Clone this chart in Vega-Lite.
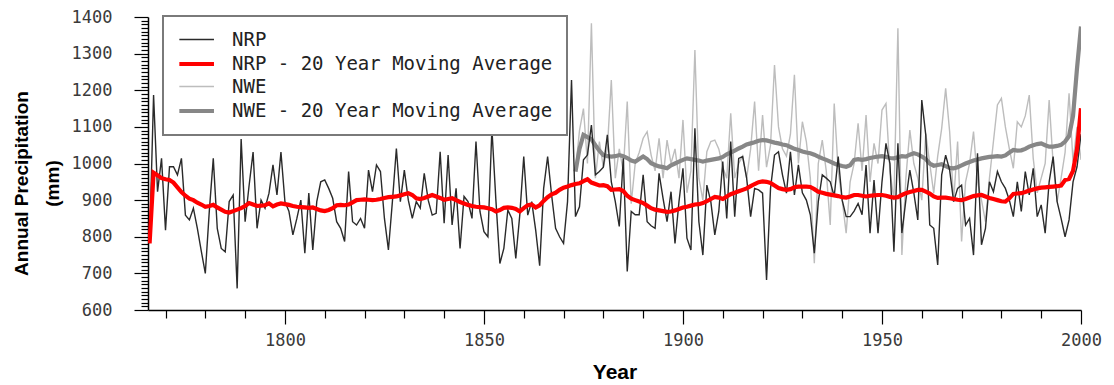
{
  "$schema": "https://vega.github.io/schema/vega-lite/v6.json",
  "width": 933,
  "height": 293,
  "autosize": {"type": "none"},
  "padding": {"left": 148, "top": 17, "right": 33, "bottom": 75},
  "background": "white",
  "config": {"view": {"stroke": null}, "axis": {"grid": false}},
  "data": {"values": [
    {"Year":1766,"NRP":782,"NRP_MA":782},
    {"Year":1767,"NRP":1187,"NRP_MA":975},
    {"Year":1768,"NRP":923,"NRP_MA":968},
    {"Year":1769,"NRP":1014,"NRP_MA":960},
    {"Year":1770,"NRP":818,"NRP_MA":957},
    {"Year":1771,"NRP":991,"NRP_MA":955},
    {"Year":1772,"NRP":991,"NRP_MA":948},
    {"Year":1773,"NRP":969,"NRP_MA":935},
    {"Year":1774,"NRP":1014,"NRP_MA":922},
    {"Year":1775,"NRP":859,"NRP_MA":912},
    {"Year":1776,"NRP":846,"NRP_MA":904},
    {"Year":1777,"NRP":878,"NRP_MA":900},
    {"Year":1778,"NRP":823,"NRP_MA":893},
    {"Year":1779,"NRP":760,"NRP_MA":888},
    {"Year":1780,"NRP":700,"NRP_MA":882},
    {"Year":1781,"NRP":870,"NRP_MA":884},
    {"Year":1782,"NRP":1014,"NRP_MA":887},
    {"Year":1783,"NRP":823,"NRP_MA":880},
    {"Year":1784,"NRP":768,"NRP_MA":874},
    {"Year":1785,"NRP":759,"NRP_MA":868},
    {"Year":1786,"NRP":896,"NRP_MA":866},
    {"Year":1787,"NRP":914,"NRP_MA":870},
    {"Year":1788,"NRP":659,"NRP_MA":874},
    {"Year":1789,"NRP":1067,"NRP_MA":878},
    {"Year":1790,"NRP":841,"NRP_MA":884},
    {"Year":1791,"NRP":940,"NRP_MA":892},
    {"Year":1792,"NRP":1031,"NRP_MA":888},
    {"Year":1793,"NRP":823,"NRP_MA":884},
    {"Year":1794,"NRP":900,"NRP_MA":885},
    {"Year":1795,"NRP":878,"NRP_MA":886},
    {"Year":1796,"NRP":919,"NRP_MA":891},
    {"Year":1797,"NRP":996,"NRP_MA":883},
    {"Year":1798,"NRP":914,"NRP_MA":888},
    {"Year":1799,"NRP":1031,"NRP_MA":891},
    {"Year":1800,"NRP":896,"NRP_MA":889},
    {"Year":1801,"NRP":870,"NRP_MA":887},
    {"Year":1802,"NRP":805,"NRP_MA":884},
    {"Year":1803,"NRP":850,"NRP_MA":882},
    {"Year":1804,"NRP":900,"NRP_MA":881},
    {"Year":1805,"NRP":755,"NRP_MA":880},
    {"Year":1806,"NRP":919,"NRP_MA":879},
    {"Year":1807,"NRP":764,"NRP_MA":880},
    {"Year":1808,"NRP":896,"NRP_MA":876},
    {"Year":1809,"NRP":950,"NRP_MA":872},
    {"Year":1810,"NRP":955,"NRP_MA":870},
    {"Year":1811,"NRP":932,"NRP_MA":873},
    {"Year":1812,"NRP":905,"NRP_MA":878},
    {"Year":1813,"NRP":841,"NRP_MA":886},
    {"Year":1814,"NRP":823,"NRP_MA":887},
    {"Year":1815,"NRP":787,"NRP_MA":886},
    {"Year":1816,"NRP":978,"NRP_MA":888},
    {"Year":1817,"NRP":841,"NRP_MA":894},
    {"Year":1818,"NRP":832,"NRP_MA":900},
    {"Year":1819,"NRP":850,"NRP_MA":901},
    {"Year":1820,"NRP":823,"NRP_MA":902},
    {"Year":1821,"NRP":982,"NRP_MA":901},
    {"Year":1822,"NRP":923,"NRP_MA":900},
    {"Year":1823,"NRP":996,"NRP_MA":901},
    {"Year":1824,"NRP":978,"NRP_MA":903},
    {"Year":1825,"NRP":850,"NRP_MA":906},
    {"Year":1826,"NRP":764,"NRP_MA":908},
    {"Year":1827,"NRP":896,"NRP_MA":909},
    {"Year":1828,"NRP":1041,"NRP_MA":910},
    {"Year":1829,"NRP":896,"NRP_MA":913},
    {"Year":1830,"NRP":982,"NRP_MA":916},
    {"Year":1831,"NRP":900,"NRP_MA":919},
    {"Year":1832,"NRP":850,"NRP_MA":914},
    {"Year":1833,"NRP":896,"NRP_MA":905},
    {"Year":1834,"NRP":878,"NRP_MA":903},
    {"Year":1835,"NRP":973,"NRP_MA":906},
    {"Year":1836,"NRP":900,"NRP_MA":910},
    {"Year":1837,"NRP":859,"NRP_MA":914},
    {"Year":1838,"NRP":864,"NRP_MA":910},
    {"Year":1839,"NRP":1032,"NRP_MA":906},
    {"Year":1840,"NRP":837,"NRP_MA":901},
    {"Year":1841,"NRP":1023,"NRP_MA":903},
    {"Year":1842,"NRP":832,"NRP_MA":905},
    {"Year":1843,"NRP":932,"NRP_MA":900},
    {"Year":1844,"NRP":768,"NRP_MA":895},
    {"Year":1845,"NRP":910,"NRP_MA":891},
    {"Year":1846,"NRP":896,"NRP_MA":887},
    {"Year":1847,"NRP":850,"NRP_MA":884},
    {"Year":1848,"NRP":1060,"NRP_MA":882},
    {"Year":1849,"NRP":869,"NRP_MA":881},
    {"Year":1850,"NRP":814,"NRP_MA":880},
    {"Year":1851,"NRP":800,"NRP_MA":878},
    {"Year":1852,"NRP":1095,"NRP_MA":875},
    {"Year":1853,"NRP":900,"NRP_MA":869},
    {"Year":1854,"NRP":727,"NRP_MA":873},
    {"Year":1855,"NRP":768,"NRP_MA":879},
    {"Year":1856,"NRP":873,"NRP_MA":880},
    {"Year":1857,"NRP":850,"NRP_MA":879},
    {"Year":1858,"NRP":741,"NRP_MA":876},
    {"Year":1859,"NRP":859,"NRP_MA":869},
    {"Year":1860,"NRP":1019,"NRP_MA":878},
    {"Year":1861,"NRP":859,"NRP_MA":886},
    {"Year":1862,"NRP":896,"NRP_MA":888},
    {"Year":1863,"NRP":818,"NRP_MA":880},
    {"Year":1864,"NRP":721,"NRP_MA":886},
    {"Year":1865,"NRP":932,"NRP_MA":898},
    {"Year":1866,"NRP":1019,"NRP_MA":908},
    {"Year":1867,"NRP":914,"NRP_MA":916},
    {"Year":1868,"NRP":823,"NRP_MA":920},
    {"Year":1869,"NRP":800,"NRP_MA":928},
    {"Year":1870,"NRP":782,"NRP_MA":934},
    {"Year":1871,"NRP":896,"NRP_MA":937},
    {"Year":1872,"NRP":1228,"NRP_MA":941},
    {"Year":1873,"NRP":855,"NRP_MA":944,"NWE":980,"NWE_MA":978},
    {"Year":1874,"NRP":882,"NRP_MA":946,"NWE":1090,"NWE_MA":1040},
    {"Year":1875,"NRP":1010,"NRP_MA":952,"NWE":1150,"NWE_MA":1078},
    {"Year":1876,"NRP":1023,"NRP_MA":957,"NWE":1000,"NWE_MA":1072},
    {"Year":1877,"NRP":1105,"NRP_MA":948,"NWE":1383,"NWE_MA":1066},
    {"Year":1878,"NRP":969,"NRP_MA":944,"NWE":960,"NWE_MA":1050},
    {"Year":1879,"NRP":978,"NRP_MA":940,"NWE":1060,"NWE_MA":1035},
    {"Year":1880,"NRP":990,"NRP_MA":941,"NWE":990,"NWE_MA":1023},
    {"Year":1881,"NRP":1078,"NRP_MA":938,"NWE":1040,"NWE_MA":1020},
    {"Year":1882,"NRP":950,"NRP_MA":928,"NWE":1228,"NWE_MA":1019},
    {"Year":1883,"NRP":896,"NRP_MA":929,"NWE":960,"NWE_MA":1020},
    {"Year":1884,"NRP":828,"NRP_MA":930,"NWE":1040,"NWE_MA":1023},
    {"Year":1885,"NRP":1014,"NRP_MA":925,"NWE":980,"NWE_MA":1020},
    {"Year":1886,"NRP":705,"NRP_MA":912,"NWE":1169,"NWE_MA":1015},
    {"Year":1887,"NRP":869,"NRP_MA":904,"NWE":890,"NWE_MA":1008},
    {"Year":1888,"NRP":860,"NRP_MA":900,"NWE":1000,"NWE_MA":1005},
    {"Year":1889,"NRP":860,"NRP_MA":896,"NWE":1030,"NWE_MA":1012},
    {"Year":1890,"NRP":969,"NRP_MA":892,"NWE":1069,"NWE_MA":1019},
    {"Year":1891,"NRP":841,"NRP_MA":885,"NWE":1087,"NWE_MA":1012},
    {"Year":1892,"NRP":830,"NRP_MA":878,"NWE":1023,"NWE_MA":1001},
    {"Year":1893,"NRP":823,"NRP_MA":874,"NWE":980,"NWE_MA":996},
    {"Year":1894,"NRP":973,"NRP_MA":872,"NWE":1069,"NWE_MA":992},
    {"Year":1895,"NRP":905,"NRP_MA":870,"NWE":960,"NWE_MA":990},
    {"Year":1896,"NRP":841,"NRP_MA":868,"NWE":1064,"NWE_MA":987},
    {"Year":1897,"NRP":923,"NRP_MA":869,"NWE":1000,"NWE_MA":995},
    {"Year":1898,"NRP":782,"NRP_MA":872,"NWE":1040,"NWE_MA":1000},
    {"Year":1899,"NRP":896,"NRP_MA":876,"NWE":960,"NWE_MA":1005},
    {"Year":1900,"NRP":987,"NRP_MA":880,"NWE":1119,"NWE_MA":1010},
    {"Year":1901,"NRP":796,"NRP_MA":882,"NWE":920,"NWE_MA":1014},
    {"Year":1902,"NRP":764,"NRP_MA":885,"NWE":980,"NWE_MA":1012},
    {"Year":1903,"NRP":1096,"NRP_MA":888,"NWE":1310,"NWE_MA":1010},
    {"Year":1904,"NRP":841,"NRP_MA":889,"NWE":960,"NWE_MA":1008},
    {"Year":1905,"NRP":750,"NRP_MA":892,"NWE":900,"NWE_MA":1005},
    {"Year":1906,"NRP":941,"NRP_MA":897,"NWE":1032,"NWE_MA":1008},
    {"Year":1907,"NRP":896,"NRP_MA":903,"NWE":1060,"NWE_MA":1010},
    {"Year":1908,"NRP":805,"NRP_MA":909,"NWE":1064,"NWE_MA":1012},
    {"Year":1909,"NRP":869,"NRP_MA":907,"NWE":1040,"NWE_MA":1014},
    {"Year":1910,"NRP":1005,"NRP_MA":903,"NWE":990,"NWE_MA":1018},
    {"Year":1911,"NRP":850,"NRP_MA":910,"NWE":960,"NWE_MA":1025},
    {"Year":1912,"NRP":1060,"NRP_MA":916,"NWE":1137,"NWE_MA":1030},
    {"Year":1913,"NRP":855,"NRP_MA":920,"NWE":960,"NWE_MA":1035},
    {"Year":1914,"NRP":1014,"NRP_MA":924,"NWE":1000,"NWE_MA":1041},
    {"Year":1915,"NRP":1019,"NRP_MA":928,"NWE":1020,"NWE_MA":1046},
    {"Year":1916,"NRP":960,"NRP_MA":932,"NWE":960,"NWE_MA":1052},
    {"Year":1917,"NRP":855,"NRP_MA":938,"NWE":1040,"NWE_MA":1055},
    {"Year":1918,"NRP":932,"NRP_MA":944,"NWE":1169,"NWE_MA":1058},
    {"Year":1919,"NRP":928,"NRP_MA":949,"NWE":980,"NWE_MA":1062},
    {"Year":1920,"NRP":919,"NRP_MA":951,"NWE":1132,"NWE_MA":1064},
    {"Year":1921,"NRP":682,"NRP_MA":950,"NWE":990,"NWE_MA":1063},
    {"Year":1922,"NRP":932,"NRP_MA":947,"NWE":1050,"NWE_MA":1060},
    {"Year":1923,"NRP":1023,"NRP_MA":940,"NWE":1269,"NWE_MA":1057},
    {"Year":1924,"NRP":1032,"NRP_MA":933,"NWE":1100,"NWE_MA":1055},
    {"Year":1925,"NRP":969,"NRP_MA":930,"NWE":1040,"NWE_MA":1052},
    {"Year":1926,"NRP":919,"NRP_MA":928,"NWE":1020,"NWE_MA":1050},
    {"Year":1927,"NRP":1032,"NRP_MA":930,"NWE":1080,"NWE_MA":1045},
    {"Year":1928,"NRP":914,"NRP_MA":935,"NWE":1242,"NWE_MA":1040},
    {"Year":1929,"NRP":996,"NRP_MA":937,"NWE":1000,"NWE_MA":1037},
    {"Year":1930,"NRP":920,"NRP_MA":937,"NWE":1114,"NWE_MA":1033},
    {"Year":1931,"NRP":900,"NRP_MA":937,"NWE":1060,"NWE_MA":1030},
    {"Year":1932,"NRP":860,"NRP_MA":936,"NWE":960,"NWE_MA":1028},
    {"Year":1933,"NRP":755,"NRP_MA":930,"NWE":728,"NWE_MA":1024},
    {"Year":1934,"NRP":896,"NRP_MA":923,"NWE":1000,"NWE_MA":1019},
    {"Year":1935,"NRP":969,"NRP_MA":920,"NWE":1064,"NWE_MA":1014},
    {"Year":1936,"NRP":960,"NRP_MA":917,"NWE":980,"NWE_MA":1010},
    {"Year":1937,"NRP":950,"NRP_MA":915,"NWE":832,"NWE_MA":1005},
    {"Year":1938,"NRP":910,"NRP_MA":913,"NWE":1164,"NWE_MA":1000},
    {"Year":1939,"NRP":1019,"NRP_MA":911,"NWE":980,"NWE_MA":996},
    {"Year":1940,"NRP":900,"NRP_MA":908,"NWE":900,"NWE_MA":993},
    {"Year":1941,"NRP":855,"NRP_MA":907,"NWE":810,"NWE_MA":991},
    {"Year":1942,"NRP":855,"NRP_MA":910,"NWE":950,"NWE_MA":995},
    {"Year":1943,"NRP":870,"NRP_MA":914,"NWE":1000,"NWE_MA":1010},
    {"Year":1944,"NRP":891,"NRP_MA":914,"NWE":1110,"NWE_MA":1012},
    {"Year":1945,"NRP":860,"NRP_MA":912,"NWE":980,"NWE_MA":1010},
    {"Year":1946,"NRP":996,"NRP_MA":910,"NWE":1132,"NWE_MA":1012},
    {"Year":1947,"NRP":810,"NRP_MA":912,"NWE":950,"NWE_MA":1015},
    {"Year":1948,"NRP":955,"NRP_MA":913,"NWE":1055,"NWE_MA":1017},
    {"Year":1949,"NRP":810,"NRP_MA":914,"NWE":1000,"NWE_MA":1019},
    {"Year":1950,"NRP":950,"NRP_MA":914,"NWE":1146,"NWE_MA":1020},
    {"Year":1951,"NRP":1055,"NRP_MA":912,"NWE":1164,"NWE_MA":1018},
    {"Year":1952,"NRP":1000,"NRP_MA":909,"NWE":980,"NWE_MA":1015},
    {"Year":1953,"NRP":759,"NRP_MA":907,"NWE":900,"NWE_MA":1014},
    {"Year":1954,"NRP":1055,"NRP_MA":908,"NWE":1369,"NWE_MA":1017},
    {"Year":1955,"NRP":810,"NRP_MA":914,"NWE":750,"NWE_MA":1020},
    {"Year":1956,"NRP":900,"NRP_MA":919,"NWE":960,"NWE_MA":1019},
    {"Year":1957,"NRP":982,"NRP_MA":922,"NWE":1091,"NWE_MA":1024},
    {"Year":1958,"NRP":920,"NRP_MA":925,"NWE":1000,"NWE_MA":1028},
    {"Year":1959,"NRP":846,"NRP_MA":928,"NWE":960,"NWE_MA":1025},
    {"Year":1960,"NRP":1173,"NRP_MA":928,"NWE":900,"NWE_MA":1019},
    {"Year":1961,"NRP":1078,"NRP_MA":923,"NWE":1082,"NWE_MA":1012},
    {"Year":1962,"NRP":832,"NRP_MA":918,"NWE":1000,"NWE_MA":1000},
    {"Year":1963,"NRP":823,"NRP_MA":910,"NWE":919,"NWE_MA":994},
    {"Year":1964,"NRP":723,"NRP_MA":906,"NWE":1020,"NWE_MA":996},
    {"Year":1965,"NRP":969,"NRP_MA":907,"NWE":1096,"NWE_MA":998},
    {"Year":1966,"NRP":1023,"NRP_MA":907,"NWE":1205,"NWE_MA":993},
    {"Year":1967,"NRP":982,"NRP_MA":905,"NWE":1087,"NWE_MA":988},
    {"Year":1968,"NRP":896,"NRP_MA":903,"NWE":896,"NWE_MA":987},
    {"Year":1969,"NRP":932,"NRP_MA":901,"NWE":1060,"NWE_MA":990},
    {"Year":1970,"NRP":941,"NRP_MA":900,"NWE":787,"NWE_MA":995},
    {"Year":1971,"NRP":832,"NRP_MA":903,"NWE":950,"NWE_MA":1000},
    {"Year":1972,"NRP":850,"NRP_MA":907,"NWE":1000,"NWE_MA":1004},
    {"Year":1973,"NRP":750,"NRP_MA":911,"NWE":1087,"NWE_MA":1008},
    {"Year":1974,"NRP":1028,"NRP_MA":913,"NWE":950,"NWE_MA":1011},
    {"Year":1975,"NRP":778,"NRP_MA":914,"NWE":900,"NWE_MA":1014},
    {"Year":1976,"NRP":823,"NRP_MA":910,"NWE":841,"NWE_MA":1016},
    {"Year":1977,"NRP":950,"NRP_MA":906,"NWE":960,"NWE_MA":1018},
    {"Year":1978,"NRP":923,"NRP_MA":903,"NWE":1060,"NWE_MA":1019},
    {"Year":1979,"NRP":978,"NRP_MA":900,"NWE":1160,"NWE_MA":1020},
    {"Year":1980,"NRP":950,"NRP_MA":897,"NWE":1178,"NWE_MA":1019},
    {"Year":1981,"NRP":932,"NRP_MA":896,"NWE":1100,"NWE_MA":1022},
    {"Year":1982,"NRP":900,"NRP_MA":905,"NWE":1040,"NWE_MA":1030},
    {"Year":1983,"NRP":855,"NRP_MA":917,"NWE":987,"NWE_MA":1037},
    {"Year":1984,"NRP":950,"NRP_MA":918,"NWE":1114,"NWE_MA":1035},
    {"Year":1985,"NRP":869,"NRP_MA":919,"NWE":1100,"NWE_MA":1036},
    {"Year":1986,"NRP":978,"NRP_MA":922,"NWE":1130,"NWE_MA":1040},
    {"Year":1987,"NRP":914,"NRP_MA":926,"NWE":1187,"NWE_MA":1046},
    {"Year":1988,"NRP":987,"NRP_MA":929,"NWE":1014,"NWE_MA":1050},
    {"Year":1989,"NRP":855,"NRP_MA":932,"NWE":920,"NWE_MA":1053},
    {"Year":1990,"NRP":887,"NRP_MA":934,"NWE":960,"NWE_MA":1055},
    {"Year":1991,"NRP":810,"NRP_MA":935,"NWE":1000,"NWE_MA":1050},
    {"Year":1992,"NRP":950,"NRP_MA":936,"NWE":1173,"NWE_MA":1046},
    {"Year":1993,"NRP":1019,"NRP_MA":937,"NWE":1000,"NWE_MA":1046},
    {"Year":1994,"NRP":896,"NRP_MA":938,"NWE":896,"NWE_MA":1048},
    {"Year":1995,"NRP":850,"NRP_MA":940,"NWE":960,"NWE_MA":1051},
    {"Year":1996,"NRP":800,"NRP_MA":955,"NWE":1030,"NWE_MA":1060},
    {"Year":1997,"NRP":846,"NRP_MA":958,"NWE":1192,"NWE_MA":1075},
    {"Year":1998,"NRP":950,"NRP_MA":980,"NWE":1005,"NWE_MA":1130},
    {"Year":1999,"NRP":991,"NRP_MA":1040,"NWE":1100,"NWE_MA":1260},
    {"Year":2000,"NRP":1080,"NRP_MA":1151,"NWE":1010,"NWE_MA":1374}
  ]},
  "transform": [
    {"fold": ["NRP", "NRP_MA", "NWE", "NWE_MA"], "as": ["series", "value"]},
    {"filter": "isValid(datum.value)"}
  ],
  "encoding": {
    "x": {
      "field": "Year", "type": "quantitative",
      "scale": {"domain": [1765.6, 2000], "nice": false, "zero": false},
      "axis": {
        "title": "Year",
        "values": [1770,1780,1790,1800,1810,1820,1830,1840,1850,1860,1870,1880,1890,1900,1910,1920,1930,1940,1950,1960,1970,1980,1990,2000],
        "format": "d",
        "labelExpr": "datum.value % 50 === 0 ? datum.label : ''",
        "labelOverlap": false,
        "labelFlush": false,
        "tickSize": {"condition": {"test": "datum.value % 50 === 0", "value": 14}, "value": 8},
        "tickColor": "#000", "tickWidth": 1.2,
        "domainColor": "#000", "domainWidth": 1.5,
        "labelFont": "DejaVu Sans Mono", "labelFontSize": 17, "labelColor": "#3a3a3a",
        "labelPadding": 8,
        "titleFont": "Liberation Sans", "titleFontWeight": "bold", "titleFontSize": 21, "titleColor": "#000",
        "titleBaseline": "alphabetic", "titleY": 68
      }
    },
    "y": {
      "field": "value", "type": "quantitative",
      "scale": {"domain": [600, 1400], "nice": false, "zero": false},
      "axis": {
        "title": ["Annual Precipitation", "(mm)"],
        "values": [600,610,620,630,640,650,660,670,680,690,700,710,720,730,740,750,760,770,780,790,800,810,820,830,840,850,860,870,880,890,900,910,920,930,940,950,960,970,980,990,1000,1010,1020,1030,1040,1050,1060,1070,1080,1090,1100,1110,1120,1130,1140,1150,1160,1170,1180,1190,1200,1210,1220,1230,1240,1250,1260,1270,1280,1290,1300,1310,1320,1330,1340,1350,1360,1370,1380,1390,1400],
        "format": "d",
        "labelExpr": "datum.value % 100 === 0 ? datum.label : ''",
        "labelOverlap": false,
        "labelFlush": false,
        "tickSize": {"condition": {"test": "datum.value % 100 === 0", "value": 14}, "value": 7},
        "tickColor": "#000", "tickWidth": 1.2,
        "domainColor": "#000", "domainWidth": 1.5,
        "labelFont": "DejaVu Sans Mono", "labelFontSize": 17, "labelColor": "#3a3a3a",
        "labelPadding": 22,
        "titleFont": "Liberation Sans", "titleFontWeight": "bold", "titleFontSize": 19, "titleColor": "#000",
        "titleAngle": -90, "titleAlign": "center", "titleBaseline": "middle",
        "titleLineHeight": 31, "titleX": -127, "titleY": 166
      }
    },
    "color": {
      "field": "series", "type": "nominal",
      "scale": {"domain": ["NRP", "NRP_MA", "NWE", "NWE_MA"], "range": ["#2a2a2a", "#ff0000", "#bdbdbd", "#878787"]},
      "legend": {
        "title": null,
        "orient": "none", "legendX": 15, "legendY": -1,
        "symbolType": "M-1,0H3", "symbolSize": 300,
        "labelFont": "DejaVu Sans Mono", "labelFontSize": 19, "labelColor": "#222", "labelLimit": 500,
        "labelOffset": 33, "padding": 14, "rowPadding": 3,
        "fillColor": "white", "strokeColor": "#7a7a7a",
        "encode": {"legend": {"update": {"strokeWidth": {"value": 2}}}},
        "labelExpr": "datum.label === 'NRP_MA' ? 'NRP - 20 Year Moving Average' : datum.label === 'NWE_MA' ? 'NWE - 20 Year Moving Average' : datum.label"
      }
    },
    "strokeWidth": {
      "field": "series", "type": "nominal",
      "scale": {"type": "ordinal", "domain": ["NRP", "NRP_MA", "NWE", "NWE_MA"], "range": [1.4, 4.2, 1.4, 4.2]},
      "legend": {
        "title": null,
        "orient": "none", "legendX": 15, "legendY": -1,
        "symbolType": "M-1,0H3", "symbolSize": 300,
        "labelFont": "DejaVu Sans Mono", "labelFontSize": 19, "labelColor": "#222", "labelLimit": 500,
        "labelOffset": 33, "padding": 14, "rowPadding": 3,
        "fillColor": "white", "strokeColor": "#7a7a7a",
        "encode": {"legend": {"update": {"strokeWidth": {"value": 2}}}},
        "labelExpr": "datum.label === 'NRP_MA' ? 'NRP - 20 Year Moving Average' : datum.label === 'NWE_MA' ? 'NWE - 20 Year Moving Average' : datum.label"
      }
    }
  },
  "layer": [
    {"transform": [{"filter": "datum.series === 'NWE'"}], "mark": {"type": "line", "clip": true}},
    {"transform": [{"filter": "datum.series === 'NWE_MA'"}], "mark": {"type": "line", "clip": true}},
    {"transform": [{"filter": "datum.series === 'NRP'"}], "mark": {"type": "line", "clip": true}},
    {"transform": [{"filter": "datum.series === 'NRP_MA'"}], "mark": {"type": "line", "clip": true}}
  ]
}
